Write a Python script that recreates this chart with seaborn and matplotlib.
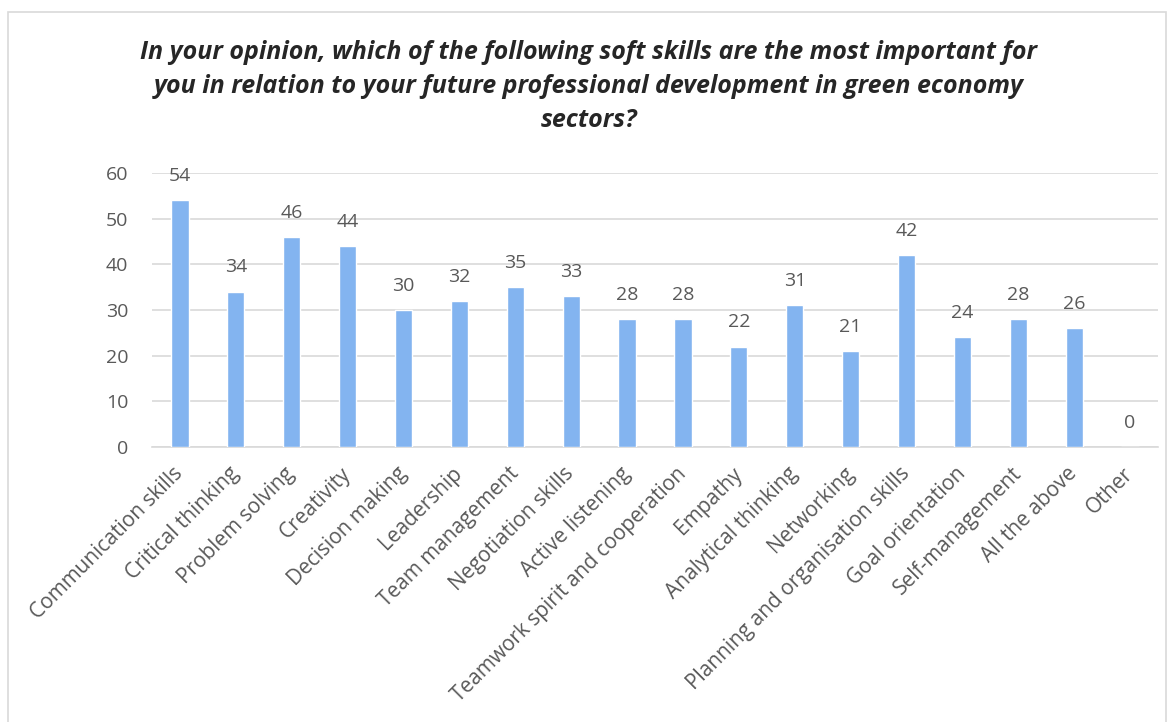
import matplotlib
matplotlib.use("Agg")
import matplotlib.pyplot as plt
import seaborn as sns
import pandas as pd
from matplotlib.patches import Rectangle

categories = ["Communication skills", "Critical thinking", "Problem solving", "Creativity",
              "Decision making", "Leadership", "Team management", "Negotiation skills",
              "Active listening", "Teamwork spirit and cooperation", "Empathy",
              "Analytical thinking", "Networking", "Planning and organisation skills",
              "Goal orientation", "Self-management", "All the above", "Other"]
values = [54, 34, 46, 44, 30, 32, 35, 33, 28, 28, 22, 31, 21, 42, 24, 28, 26, 0]
yticks = [0, 10, 20, 30, 40, 50, 60]
title = ("In your opinion, which of the following soft skills are the most important for\n"
         "you in relation to your future professional development in green economy\n"
         "sectors?")

sns.set_theme(style="white")
plt.rcParams['font.family'] = ['Open Sans', 'DejaVu Sans']

df = pd.DataFrame({"skill": categories, "value": values})

fig = plt.figure(figsize=(11.74, 7.22), dpi=100)
W, H = 1174, 722
ax = fig.add_axes([152 / W, 1 - 447 / H, (1158 - 152) / W, (447 - 173) / H])

sns.barplot(data=df, x="skill", y="value", color="#83B4F0", width=0.31,
            saturation=1, ax=ax, zorder=3)

ax.set_ylim(0, 60)
ax.set_xlim(-0.5, len(categories) - 0.5)
ax.set_yticks(yticks)
ax.yaxis.grid(True, color="#D9D9D9", linewidth=1.2, zorder=0)
ax.set_axisbelow(True)
for s in ["top", "right", "left"]:
    ax.spines[s].set_visible(False)
ax.spines["bottom"].set_color("#D9D9D9")
ax.spines["bottom"].set_linewidth(1.2)
ax.set_xlabel("")
ax.set_ylabel("")
ax.tick_params(axis="y", length=0, labelsize=14, labelcolor="#595959", pad=17)
ax.tick_params(axis="x", length=0, labelsize=15, labelcolor="#595959", pad=17)
ax.set_xticks(range(len(categories)))
ax.set_xticklabels(categories, rotation=45, ha="right", va="center",
                   rotation_mode="anchor")

for i, v in enumerate(values):
    ax.annotate(str(v), (i, v), xytext=(0, 11), textcoords="offset points",
                ha="center", va="bottom", fontsize=14, color="#595959", clip_on=False)

fig.text(0.5 + 2 / W, 1 - 40 / H, title, ha="center", va="top",
         fontsize=18, fontweight="bold", fontstyle="italic", color="#262626",
         linespacing=1.47)

fig.patches.append(Rectangle((8 / W, -0.05), (1166 - 8) / W, 1 - 12 / H + 0.05,
                             transform=fig.transFigure, fill=False,
                             edgecolor="#D9D9D9", linewidth=1.2))

fig.savefig("out.png", dpi=100)
